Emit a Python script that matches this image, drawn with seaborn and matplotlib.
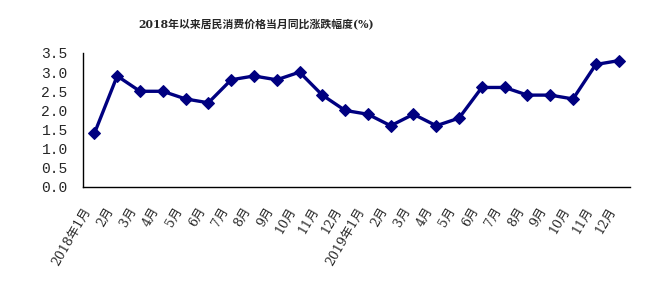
import matplotlib
matplotlib.use("Agg")
import matplotlib.pyplot as plt
import matplotlib.transforms as mtransforms
import seaborn as sns
import pandas as pd

months = ["2018年1月", "2月", "3月", "4月", "5月", "6月", "7月", "8月", "9月", "10月", "11月", "12月",
          "2019年1月", "2月", "3月", "4月", "5月", "6月", "7月", "8月", "9月", "10月", "11月", "12月"]
values = [1.4, 2.9, 2.5, 2.5, 2.3, 2.2, 2.8, 2.9, 2.8, 3.0, 2.4, 2.0,
          1.9, 1.6, 1.9, 1.6, 1.8, 2.6, 2.6, 2.4, 2.4, 2.3, 3.2, 3.3]
yticks = [0.0, 0.5, 1.0, 1.5, 2.0, 2.5, 3.0, 3.5]
title = "2018年以来居民消费价格当月同比涨跌幅度(%)"

sns.set_style("white")
plt.rcParams['font.family'] = ['DejaVu Serif', 'Noto Sans CJK SC']

df = pd.DataFrame({"idx": range(len(values)), "value": values})

fig = plt.figure(figsize=(6.48, 2.97), dpi=100)
ax = fig.add_axes([83/648, 1 - 187/297, (630-83)/648, (187-53)/297])

sns.lineplot(data=df, x="idx", y="value", ax=ax, color="#000080", linewidth=2.4,
             marker="D", markersize=6.5, markeredgecolor="#000080", markerfacecolor="#000080")

ax.set_xlim(-0.5, len(values) - 0.5)
ax.set_ylim(0, 3.5)
ax.set_yticks(yticks)
ax.set_yticklabels([f"{v:.1f}" for v in yticks], fontsize=10.5,
                   family=['Liberation Mono', 'DejaVu Sans Mono'])
ax.set_xticks([i - 0.5 for i in range(len(values) + 1)])
ax.set_xticklabels([])
ax.set_xticks(list(range(len(values))), minor=True)
ax.set_xticklabels(months, minor=True, rotation=60, ha="right", va="top",
                   rotation_mode="anchor", fontsize=9)
ax.tick_params(axis="x", which="minor", length=0, pad=13)
ax.tick_params(axis="x", which="major", direction="in", length=4, width=1, color="black")
ax.tick_params(axis="y", direction="in", length=4, width=1, color="black", pad=11)
shift = mtransforms.ScaledTranslation(-12/100, 0, fig.dpi_scale_trans)
for lab in ax.get_xticklabels(minor=True):
    lab.set_transform(lab.get_transform() + shift)
ax.set_xlabel("")
ax.set_ylabel("")
for s in ["top", "right"]:
    ax.spines[s].set_visible(False)
for s in ["left", "bottom"]:
    ax.spines[s].set_color("black")
    ax.spines[s].set_linewidth(1)
ax.grid(False)

fig.text(256/648, 1 - 24/297, title, ha="center", va="center", fontsize=7.8,
         fontweight="bold", family=['DejaVu Serif', 'Noto Sans CJK SC'])

fig.savefig("out.png", dpi=100)
